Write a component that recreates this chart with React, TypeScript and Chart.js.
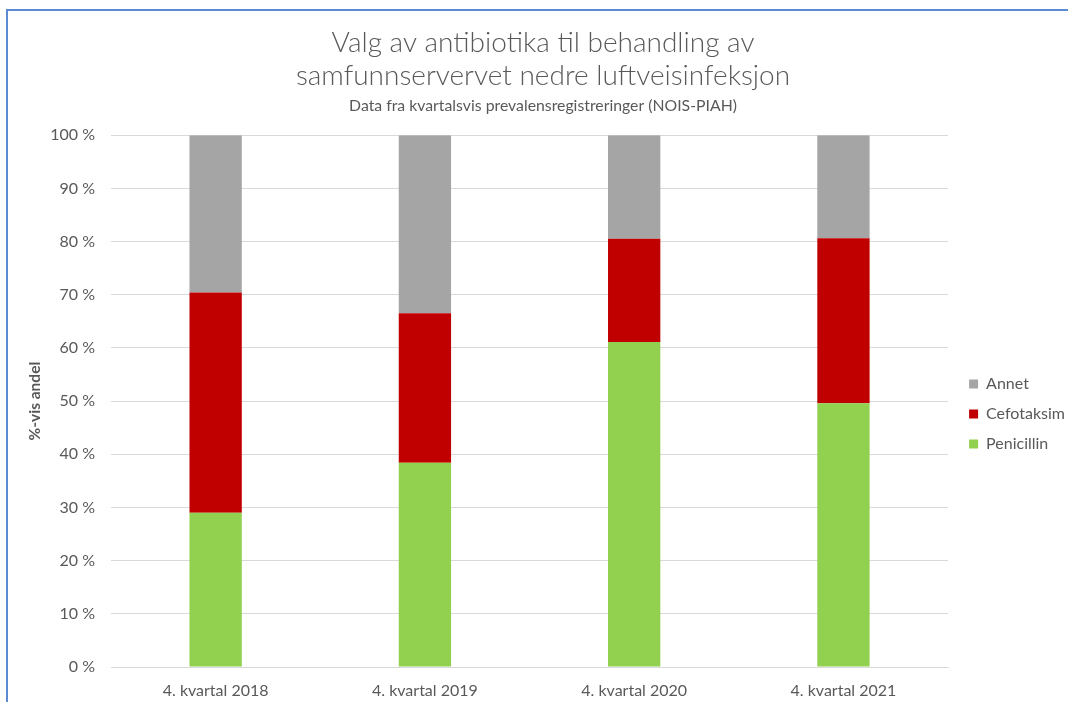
import React, { useEffect, useRef } from "react";
import { Chart, registerables } from "chart.js";

Chart.register(...registerables);

const categories = ["4. kvartal 2018", "4. kvartal 2019", "4. kvartal 2020", "4. kvartal 2021"];
const penicillin = [29.0, 38.4, 61.1, 49.6];
const cefotaksim = [41.4, 28.1, 19.4, 31.0];
const annet = [29.6, 33.5, 19.5, 19.4];
const titleLines = ["Valg av antibiotika til behandling av", "samfunnservervet nedre luftveisinfeksjon"];
const subtitleText = "Data fra kvartalsvis prevalensregistreringer (NOIS-PIAH)";
const yAxisTitle = "%-vis andel";

const FONT = "Lato, 'Open Sans', sans-serif";
const GREY_TEXT = "#595959";

export default function App() {
  const ref = useRef<HTMLCanvasElement | null>(null);

  useEffect(() => {
    if (!ref.current) return;
    const chart = new Chart(ref.current, {
      type: "bar",
      data: {
        labels: categories,
        datasets: [
          { label: "Penicillin", data: penicillin, backgroundColor: "#92D050" },
          { label: "Cefotaksim", data: cefotaksim, backgroundColor: "#C00000" },
          { label: "Annet", data: annet, backgroundColor: "#A5A5A5" },
        ],
      },
      options: {
        responsive: false,
        animation: false,
        devicePixelRatio: 1,
        layout: { padding: { left: 11, right: -7, top: 0, bottom: 0 } },
        datasets: { bar: { barPercentage: 0.25, categoryPercentage: 1, borderWidth: 0 } },
        plugins: {
          title: {
            display: true,
            text: titleLines,
            color: GREY_TEXT,
            font: { family: FONT, size: 28, weight: 300, lineHeight: 1.2 },
            padding: { top: 26, bottom: 0 },
          },
          subtitle: {
            display: true,
            text: subtitleText,
            color: GREY_TEXT,
            font: { family: FONT, size: 15.8, weight: "normal", lineHeight: 1.2 },
            padding: { top: 3, bottom: 20 },
          },
          legend: {
            position: "right",
            reverse: true,
            title: { display: true, text: "", font: { size: 10, lineHeight: 1.2 }, padding: { top: 114, bottom: 0 } },
            labels: {
              boxWidth: 9,
              boxHeight: 9,
              padding: 14,
              color: GREY_TEXT,
              font: { family: FONT, size: 16 },
            },
          },
          tooltip: { enabled: false },
        },
        scales: {
          x: {
            stacked: true,
            grid: { display: false },
            border: { display: true, color: "#d9d9d9" },
            ticks: { color: GREY_TEXT, font: { family: FONT, size: 16 }, padding: 6 },
            afterFit: (s: any) => { s.height = 35; },
          },
          y: {
            stacked: true,
            min: 0,
            max: 100,
            ticks: {
              stepSize: 10,
              color: GREY_TEXT,
              font: { family: FONT, size: 16 },
              padding: 16,
              callback: (v: any) => v + " %",
            },
            grid: { color: "#d9d9d9", drawTicks: false },
            border: { display: false },
            title: {
              display: true,
              text: yAxisTitle,
              color: GREY_TEXT,
              font: { family: FONT, size: 15.5, weight: "bold" },
              padding: { top: 15, bottom: 0 },
            },
            afterFit: (s: any) => { s.width = 100; },
          },
          y2: {
            position: "right",
            display: true,
            grid: { display: false },
            ticks: { display: false },
            border: { display: false },
            afterFit: (s: any) => { s.width = 7; },
          },
        },
      },
    } as any);
    return () => chart.destroy();
  }, []);

  return (
    <div style={{ position: "fixed", left: 0, top: 0, width: 1068, height: 702, background: "#fff", overflow: "hidden" }}>
      <canvas ref={ref} width={1068} height={702} style={{ position: "absolute", left: 0, top: 0 }} />
      <div style={{ position: "absolute", left: 6, top: 9, width: 1062, height: 2, background: "#5b8bd0" }} />
      <div style={{ position: "absolute", left: 6, top: 9, width: 2, height: 693, background: "#5b8bd0" }} />
    </div>
  );
}
